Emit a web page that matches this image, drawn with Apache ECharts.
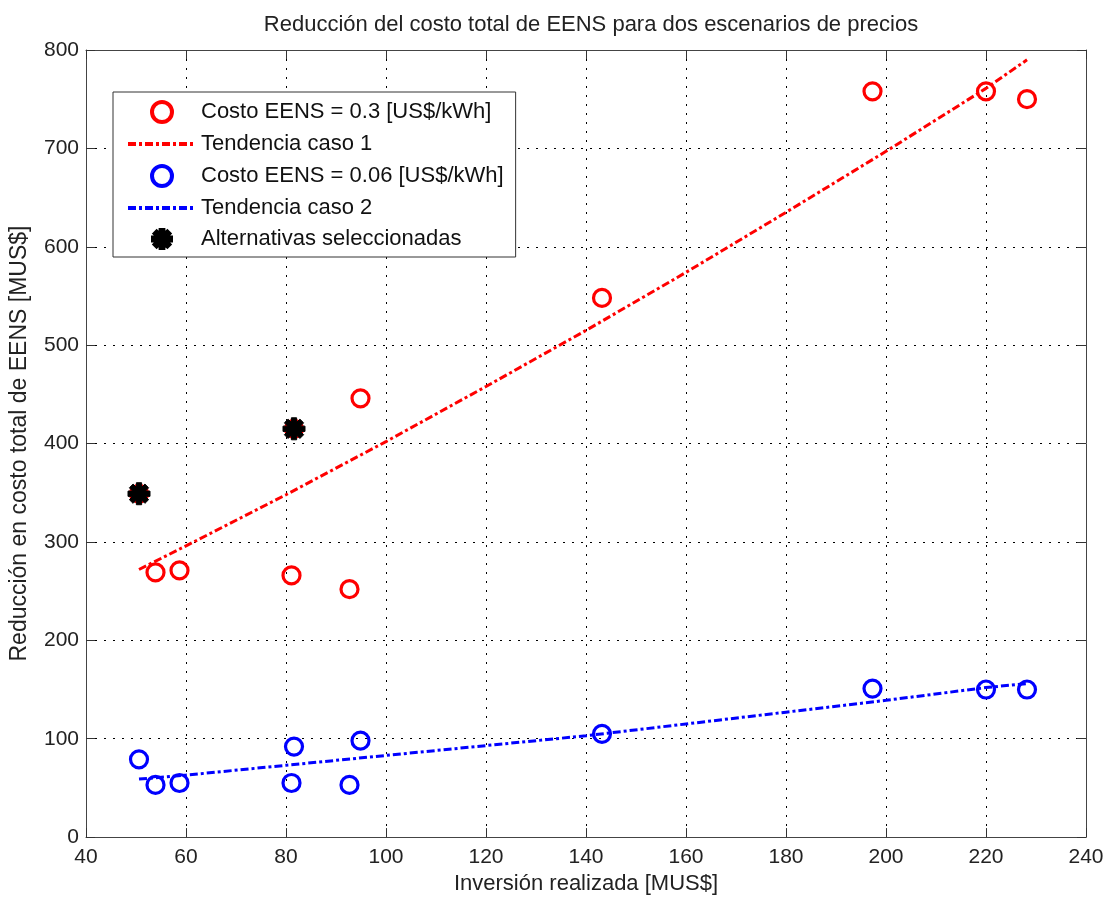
<!DOCTYPE html>
<html>
<head>
<meta charset="utf-8">
<script src="https://cdn.jsdelivr.net/npm/echarts@6/dist/echarts.min.js"></script>
<style>
html,body{margin:0;padding:0;background:#fff;}
#chart{width:1114px;height:900px;}
</style>
</head>
<body>
<div id="chart"></div>
<script>
// ---- data ----
const chartTitle = 'Reducción del costo total de EENS para dos escenarios de precios';
const xAxisName = 'Inversión realizada [MUS$]';
const yAxisName = 'Reducción en costo total de EENS [MUS$]';
const legendNames = ['Costo EENS = 0.3 [US$/kWh]', 'Tendencia caso 1', 'Costo EENS = 0.06 [US$/kWh]', 'Tendencia caso 2', 'Alternativas seleccionadas'];

const invX   = [50.6, 53.9, 58.7, 81.1, 81.6, 92.7, 94.9, 143.2, 197.3, 220.0, 228.2];
const redY   = [349, 269, 271, 266, 415, 252, 446, 548, 758, 758, 750];
const blueY  = [79, 53, 55, 55, 92, 53, 98, 105, 151, 150, 150];

const selX   = [50.6, 81.6];
const selY   = [349, 415];

const trendX  = [50.6, 60, 80, 100, 120, 140, 160, 180, 200, 220, 228.2];
const trend1Y = [272, 296, 348, 402, 458, 515, 574, 635, 697, 761, 790];
const trend2Y = [59, 63, 73, 83, 93, 103, 115, 127, 139, 152, 156];

const xTicks = {min: 40, max: 240, interval: 20};
const yTicks = {min: 0, max: 800, interval: 100};

// ---- styles ----
const FONT = 'Liberation Sans, Arial, sans-serif';
const RED = '#ff0000', BLUE = '#0000ff';
const dashDot = [8, 3, 3, 3];
const asterisk = 'path://M-10,-2.4L10,-2.4L10,2.4L-10,2.4Z M-2.4,-10L2.4,-10L2.4,10L-2.4,10Z M-8.77,-5.38L-5.38,-8.77L8.77,5.38L5.38,8.77Z M-8.77,5.38L5.38,-8.77L8.77,-5.38L-5.38,8.77Z';

const pairs = (xs, ys) => xs.map((x, i) => [x, ys[i]]);

const chart = echarts.init(document.getElementById('chart'), null, {renderer: 'canvas'});

const axisCommon = {
  axisLine: {show: true, onZero: false, lineStyle: {color: '#444', width: 1}},
  axisTick: {show: true, inside: true, length: 9, lineStyle: {color: '#333'}},
};

const ringStyle = c => ({color: 'rgba(255,255,255,0)', borderColor: c, borderWidth: 3.2, opacity: 1});

const option = {
  backgroundColor: '#fff',
  animation: false,
  textStyle: {fontFamily: FONT},
  title: {
    text: chartTitle, left: 586, top: 9, textAlign: 'center',
    textStyle: {fontFamily: FONT, fontSize: 22, fontWeight: 'normal', color: '#222'}
  },
  grid: {left: 86, right: 28, top: 50, bottom: 59, containLabel: false},
  legend: {
    orient: 'vertical', left: 113, top: 92,
    padding: [8, 12, 7, 13],
    itemWidth: 68, itemHeight: 20, itemGap: 9,
    backgroundColor: '#fff', borderColor: '#333', borderWidth: 1,
    textStyle: {fontFamily: FONT, fontSize: 22, color: '#111', lineHeight: 22},
    data: [
      {name: legendNames[0], itemStyle: {borderWidth: 4}},
      {name: legendNames[1], itemStyle: {opacity: 0, borderWidth: 0}, lineStyle: {width: 4}},
      {name: legendNames[2], itemStyle: {borderWidth: 4}},
      {name: legendNames[3], itemStyle: {opacity: 0, borderWidth: 0}, lineStyle: {width: 4}},
      {name: legendNames[4]}
    ]
  },
  xAxis: [
    Object.assign({
      type: 'value', position: 'bottom', min: xTicks.min, max: xTicks.max, interval: xTicks.interval,
      name: xAxisName, nameLocation: 'middle', nameGap: 33,
      nameTextStyle: {fontFamily: FONT, fontSize: 22, color: '#222'},
      axisLabel: {fontFamily: FONT, fontSize: 21, color: '#222', margin: 10},
      splitLine: {show: true, lineStyle: {color: '#000', type: [2, 7], width: 1}}
    }, axisCommon),
    Object.assign({
      type: 'value', position: 'top', min: xTicks.min, max: xTicks.max, interval: xTicks.interval,
      axisLabel: {show: false}, splitLine: {show: false}
    }, axisCommon)
  ],
  yAxis: [
    Object.assign({
      type: 'value', position: 'left', min: yTicks.min, max: yTicks.max, interval: yTicks.interval,
      name: yAxisName, nameLocation: 'middle', nameGap: 55,
      nameTextStyle: {fontFamily: FONT, fontSize: 23, color: '#222'},
      axisLabel: {fontFamily: FONT, fontSize: 21, color: '#222', margin: 7},
      splitLine: {show: true, lineStyle: {color: '#000', type: [2, 7], width: 1}}
    }, axisCommon),
    Object.assign({
      type: 'value', position: 'right', min: yTicks.min, max: yTicks.max, interval: yTicks.interval,
      axisLabel: {show: false}, splitLine: {show: false}
    }, axisCommon)
  ],
  series: [
    {
      name: legendNames[0], type: 'scatter', xAxisIndex: 0, yAxisIndex: 0,
      symbol: 'circle', symbolSize: 17,
      itemStyle: ringStyle(RED),
      data: pairs(invX, redY), z: 3
    },
    {
      name: legendNames[1], type: 'line', xAxisIndex: 0, yAxisIndex: 0,
      symbol: 'none', showSymbol: false,
      lineStyle: {color: RED, width: 3, type: dashDot},
      itemStyle: {color: RED},
      data: pairs(trendX, trend1Y), z: 2
    },
    {
      name: legendNames[2], type: 'scatter', xAxisIndex: 0, yAxisIndex: 0,
      symbol: 'circle', symbolSize: 17,
      itemStyle: ringStyle(BLUE),
      data: pairs(invX, blueY), z: 3
    },
    {
      name: legendNames[3], type: 'line', xAxisIndex: 0, yAxisIndex: 0,
      symbol: 'none', showSymbol: false,
      lineStyle: {color: BLUE, width: 3, type: dashDot},
      itemStyle: {color: BLUE},
      data: pairs(trendX, trend2Y), z: 2
    },
    {
      name: legendNames[4], type: 'scatter', xAxisIndex: 0, yAxisIndex: 0,
      symbol: asterisk, symbolSize: 22, symbolKeepAspect: true,
      itemStyle: {color: '#000', borderColor: '#000', borderWidth: 1, opacity: 1},
      data: pairs(selX, selY), z: 4
    }
  ]
};

chart.setOption(option);
</script>
</body>
</html>
